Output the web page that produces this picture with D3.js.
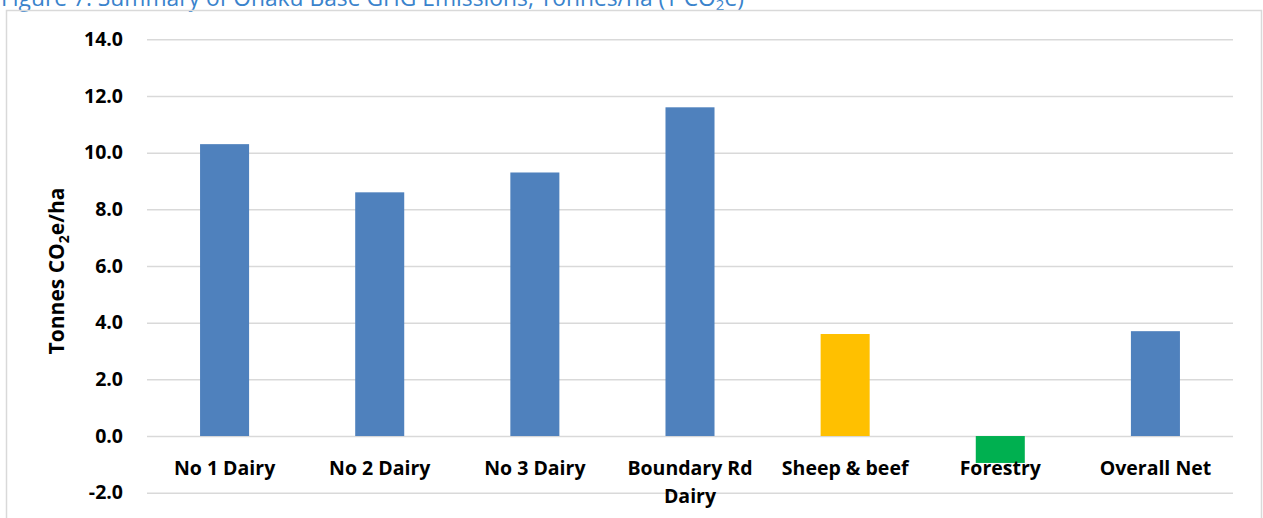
<!DOCTYPE html>
<html><head><meta charset="utf-8">
<script src="https://cdn.jsdelivr.net/npm/d3@7"></script>
<style>
html,body{margin:0;padding:0;background:#fff;overflow:hidden}
svg{display:block}
</style></head>
<body>
<svg id="c" width="1263" height="518"></svg>
<script>
const categories = ["No 1 Dairy","No 2 Dairy","No 3 Dairy","Boundary Rd Dairy","Sheep & beef","Forestry","Overall Net"];
const values = [10.3, 8.6, 9.3, 11.6, 3.6, -0.95, 3.7];
const barColors = ["#4F81BD","#4F81BD","#4F81BD","#4F81BD","#FFC000","#00B050","#4F81BD"];
const yTicks = [-2,0,2,4,6,8,10,12,14];

const svg = d3.select("#c");
const font = "'Open Sans', sans-serif";
const pLeft = 147, pRight = 1233, pTop = 39.3, pBottom = 492.7;

// title (clipped at top, as in the source)
const t = svg.append("text").attr("x", 1).attr("y", 6)
  .attr("font-family", font).attr("font-size", 22.8)
  .attr("fill", "#3A83CC");
t.append("tspan").text("Figure 7: Summary of Ohaku Base GHG Emissions, Tonnes/ha (T CO");
t.append("tspan").attr("font-size", 15).attr("dy", 4).text("2");
t.append("tspan").attr("dy", -4).text("e)");

// chart border
svg.append("rect").attr("x", 6.5).attr("y", 10.5).attr("width", 1255).attr("height", 520)
  .attr("fill", "none").attr("stroke", "#d9d9d9").attr("stroke-width", 1.5);

const y = d3.scaleLinear().domain([-2, 14]).range([pBottom, pTop]);
const x = d3.scaleBand().domain(categories).range([pLeft, pRight]).paddingInner(0.684).paddingOuter(0.342);

// gridlines + tick labels
const yAxis = d3.axisLeft(y).tickValues(yTicks).tickSize(-(pRight-pLeft))
  .tickFormat(d => d.toFixed(1)).tickPadding(24);
const gy = svg.append("g").attr("transform", `translate(${pLeft},0)`).call(yAxis);
gy.select(".domain").remove();
gy.selectAll(".tick line").attr("stroke", "#d9d9d9").attr("stroke-width", 1.5);
gy.selectAll(".tick text").attr("font-family", font).attr("font-weight", "bold")
  .attr("font-size", 19.5).attr("fill", "#000");

// bars
svg.append("g").selectAll("rect").data(values).join("rect")
  .attr("x", (d,i) => x(categories[i]))
  .attr("width", x.bandwidth())
  .attr("y", d => y(Math.max(0, d)))
  .attr("height", d => Math.abs(y(d) - y(0)))
  .attr("fill", (d,i) => barColors[i]);

// x labels
const xAxis = d3.axisBottom(x).tickSize(0).tickPadding(0);
const gx = svg.append("g").attr("transform", `translate(0,${y(0)})`).call(xAxis);
gx.select(".domain").remove();
gx.selectAll(".tick text").each(function(d){
  const el = d3.select(this);
  el.text(null).attr("font-family", font).attr("font-weight", "bold").attr("font-size", 19.5)
    .attr("fill", "#000").attr("y", 39).attr("dy", null);
  const lines = d === "Boundary Rd Dairy" ? ["Boundary Rd","Dairy"] : [d];
  lines.forEach((l, k) => el.append("tspan").attr("x", 0).attr("dy", k === 0 ? 0 : 28).text(l));
});

// y axis title
const yt = svg.append("text").attr("transform", "translate(64,271) rotate(-90)")
  .attr("text-anchor", "middle").attr("font-family", font).attr("font-weight", "bold")
  .attr("font-size", 21).attr("fill", "#000");
yt.append("tspan").text("Tonnes CO");
yt.append("tspan").attr("font-size", 14).attr("dy", 5).text("2");
yt.append("tspan").attr("dy", -5).text("e/ha");
</script>
</body></html>
